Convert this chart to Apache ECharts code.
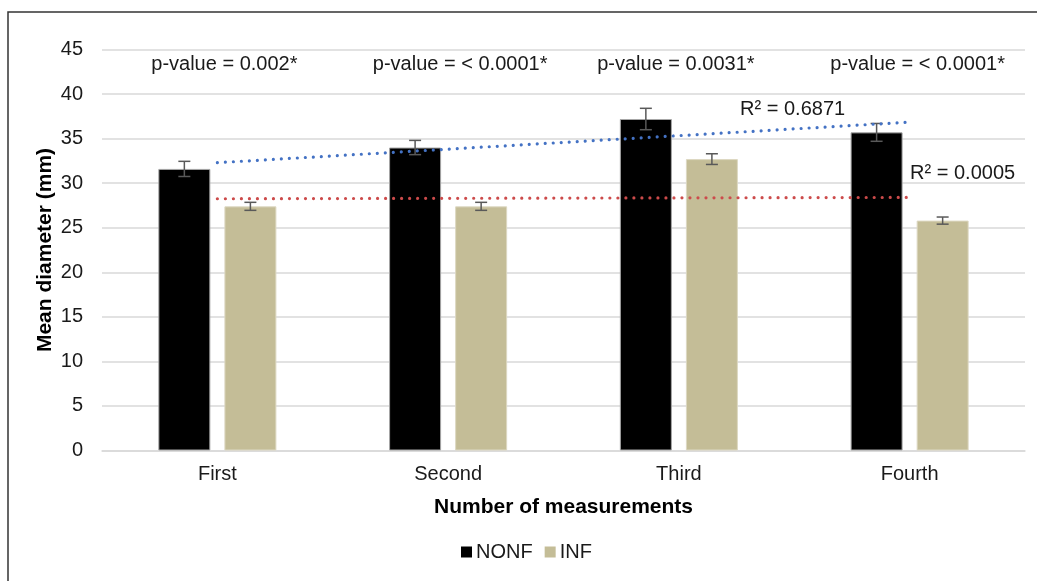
<!DOCTYPE html>
<html>
<head>
<meta charset="utf-8">
<script src="https://cdn.jsdelivr.net/npm/echarts@6/dist/echarts.min.js"></script>
<style>html,body{margin:0;padding:0;background:#fff;}#c{width:1037px;height:581px;}</style>
</head>
<body>
<div id="c"></div>
<script>
const categories = ['First', 'Second', 'Third', 'Fourth'];
const nonfValues = [31.6, 34.0, 37.2, 35.7];
const infValues = [27.4, 27.4, 32.7, 25.8];
const nonfErrors = [0.85, 0.8, 1.2, 1.0];
const infErrors = [0.45, 0.45, 0.6, 0.4];
const nonfTrend = [32.3, 36.85];   // trendline value at First and at Fourth
const infTrend = [28.25, 28.4];
const pValueLabels = ['p-value = 0.002*', 'p-value = < 0.0001*', 'p-value = 0.0031*', 'p-value = < 0.0001*'];
const pValueLevel = [43.3, 43.3, 43.3, 43.3];
const r2Labels = ['R² = 0.6871', 'R² = 0.0005'];
const yTicks = [0, 5, 10, 15, 20, 25, 30, 35, 40, 45];

const BAR_W = 52, BAR_GAP = 0.27;
const OFFSET = (BAR_W + BAR_W * BAR_GAP) / 2;
const FONT = 'Liberation Sans, Arial, sans-serif';
const TXT = '#1a1a1a';

const chart = echarts.init(document.getElementById('c'), null, {renderer: 'canvas'});

function errItems(vals, errs) { return vals.map((v, i) => [i, v, errs[i]]); }

function errRender(sign) {
  return function (params, api) {
    const i = api.value(0), v = api.value(1), e = api.value(2);
    const top = api.coord([i, v + e]);
    const bot = api.coord([i, v - e]);
    const x = top[0] + sign * OFFSET;
    const cap = 6;
    const st = {stroke: '#595959', lineWidth: 1.5};
    return {type: 'group', children: [
      {type: 'line', shape: {x1: x, y1: top[1], x2: x, y2: bot[1]}, style: st},
      {type: 'line', shape: {x1: x - cap, y1: top[1], x2: x + cap, y2: top[1]}, style: st},
      {type: 'line', shape: {x1: x - cap, y1: bot[1], x2: x + cap, y2: bot[1]}, style: st}
    ]};
  };
}

const last = categories.length - 1;
const pOffsets = [7, 12, -3, 8];
const r2Offsets = [[-117, -13], [53, -24]];

function trendSeries(name, vals, color) {
  return {name: name, type: 'line', data: [[0, vals[0]], [last, vals[1]]], symbol: 'none', z: 6,
    lineStyle: {color: color, width: 3.2, type: [0.01, 8], cap: 'round'}};
}

function labelSeries(name, items) {
  return {name: name, type: 'scatter', symbolSize: 0, z: 7, itemStyle: {opacity: 1},
    data: items, label: {position: 'inside', fontFamily: FONT, fontSize: 20, color: TXT}};
}

chart.setOption({
  animation: false,
  backgroundColor: '#fff',
  grid: {left: 102, right: 12, top: 49.5, bottom: 130.5},
  graphic: [{type: 'rect', shape: {x: 8, y: 12, width: 1200, height: 800},
    style: {fill: 'none', stroke: '#333', lineWidth: 1.5}, silent: true, z: -10}],
  legend: {
    data: ['NONF', 'INF'], left: 456, top: 537, icon: 'rect', itemWidth: 11, itemHeight: 11,
    itemGap: 12, itemStyle: {borderWidth: 0},
    textStyle: {fontFamily: FONT, fontSize: 20, color: TXT, padding: [0, 0, 0, -1]}
  },
  xAxis: {
    type: 'category', data: categories,
    axisLine: {lineStyle: {color: '#d9d9d9', width: 1.5}},
    axisTick: {show: false},
    axisLabel: {fontFamily: FONT, fontSize: 20, color: TXT, margin: 14},
    name: 'Number of measurements', nameLocation: 'middle', nameGap: 46,
    nameTextStyle: {fontFamily: FONT, fontSize: 21, fontWeight: 'bold', color: '#000'}
  },
  yAxis: {
    type: 'value', min: 0, max: 45, interval: 5,
    axisLine: {show: false}, axisTick: {show: false},
    splitLine: {lineStyle: {color: '#d9d9d9', width: 1.5}},
    axisLabel: {fontFamily: FONT, fontSize: 20, color: TXT, margin: 19,
      formatter: v => yTicks.indexOf(v) >= 0 ? String(v) : ''},
    name: 'Mean diameter (mm)', nameLocation: 'middle', nameGap: 46, nameMoveOverlap: false,
    nameTextStyle: {fontFamily: FONT, fontSize: 21, fontWeight: 'bold', color: '#000'}
  },
  series: [
    {name: 'NONF', type: 'bar', data: nonfValues, barWidth: BAR_W, barGap: (BAR_GAP * 100) + '%',
     itemStyle: {color: '#000', borderColor: '#a6a6a6', borderWidth: 1}},
    {name: 'INF', type: 'bar', data: infValues, barWidth: BAR_W,
     itemStyle: {color: '#C4BD97', borderColor: '#ddd8c2', borderWidth: 1}},
    {name: 'errNONF', type: 'custom', data: errItems(nonfValues, nonfErrors), renderItem: errRender(-1), z: 5},
    {name: 'errINF', type: 'custom', data: errItems(infValues, infErrors), renderItem: errRender(1), z: 5},
    trendSeries('trendNONF', nonfTrend, '#4472C4'),
    trendSeries('trendINF', infTrend, '#CC4B4B'),
    labelSeries('r2', [nonfTrend, infTrend].map((t, k) => ({value: [last, t[1]],
       label: {show: true, formatter: r2Labels[k], offset: r2Offsets[k]}}))),
    labelSeries('pvals', categories.map((c, i) => ({value: [i, pValueLevel[i]],
       label: {show: true, formatter: pValueLabels[i], offset: [pOffsets[i], 0]}})))
  ]
});
</script>
</body>
</html>
